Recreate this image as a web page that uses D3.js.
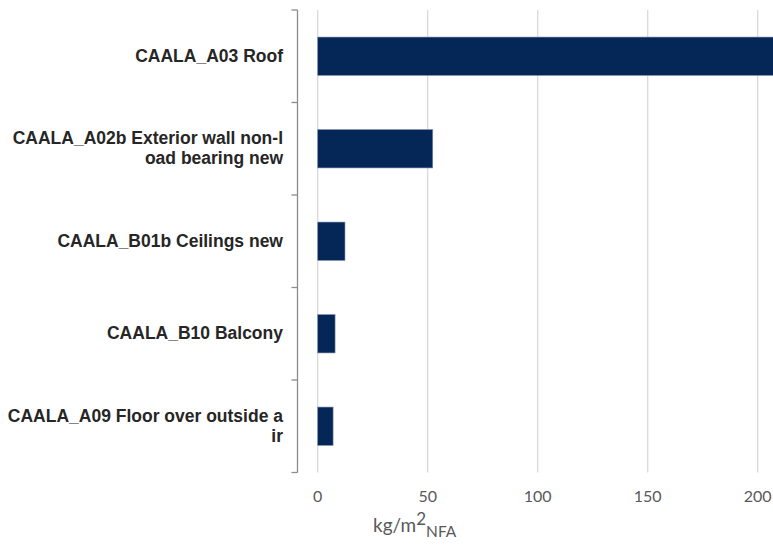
<!DOCTYPE html>
<html>
<head>
<meta charset="utf-8">
<script src="https://cdn.jsdelivr.net/npm/d3@7"></script>
<style>
  html, body { margin: 0; padding: 0; background: #fff; }
  svg { display: block; overflow: hidden; }
</style>
</head>
<body>
<svg id="chart" width="773" height="545"></svg>
<script>
// Building components and their embodied mass per net floor area
const categories = [
  ["CAALA_A03 Roof"],
  ["CAALA_A02b Exterior wall non-l", "oad bearing new"],
  ["CAALA_B01b Ceilings new"],
  ["CAALA_B10 Balcony"],
  ["CAALA_A09 Floor over outside a", "ir"]
];
const values = [220, 52.3, 12.4, 7.9, 7.0];
const xTicks = [0, 50, 100, 150, 200];

const svg = d3.select("#chart");
const axisX = 297.5;
const plotTop = 10, plotBottom = 472.5;

const x = d3.scaleLinear().domain([0, 200]).range([317.7, 757.7]);
const y = d3.scaleBand()
  .domain(d3.range(categories.length))
  .range([plotTop, plotBottom])
  .paddingInner(0.585)
  .paddingOuter(0.2925);
const yBand = d3.scaleBand().domain(d3.range(categories.length)).range([plotTop, plotBottom]);

// vertical gridlines
svg.append("g").selectAll("line").data(xTicks).join("line")
  .attr("x1", d => x(d)).attr("x2", d => x(d))
  .attr("y1", plotTop).attr("y2", plotBottom)
  .attr("stroke", "#d9d9d9").attr("stroke-width", 1.3);

// bars
svg.append("g").selectAll("rect").data(values).join("rect")
  .attr("x", x(0))
  .attr("y", (d, i) => y(i))
  .attr("width", d => x(d) - x(0))
  .attr("height", y.bandwidth())
  .attr("fill", "#052757")
  .attr("stroke", "#8090a8").attr("stroke-width", 0.6);

// category axis with band boundary ticks pointing left
const yAxisG = svg.append("g");
yAxisG.append("line")
  .attr("x1", axisX).attr("x2", axisX).attr("y1", plotTop).attr("y2", plotBottom)
  .attr("stroke", "#8c8c8c").attr("stroke-width", 1.3);
const bounds = d3.range(categories.length + 1).map(i => i < categories.length ? yBand(i) : plotBottom);
yAxisG.selectAll("line.tick").data(bounds).join("line")
  .attr("class", "tick")
  .attr("x1", axisX - 6).attr("x2", axisX)
  .attr("y1", d => d).attr("y2", d => d)
  .attr("stroke", "#8c8c8c").attr("stroke-width", 1.3);

// category labels
const labelG = svg.append("g")
  .attr("font-family", "'Liberation Sans', Arial, sans-serif")
  .attr("font-weight", "bold")
  .attr("font-size", 17.5)
  .attr("fill", "#262626")
  .attr("text-anchor", "end");
categories.forEach((lines, i) => {
  const cy = yBand(i) + yBand.bandwidth() / 2;
  const lh = 20;
  const t = labelG.append("text").attr("x", 283);
  lines.forEach((ln, j) => {
    t.append("tspan")
      .attr("x", 283)
      .attr("y", cy + (j - (lines.length - 1) / 2) * lh + 5.5)
      .text(ln);
  });
});

// value axis tick labels
svg.append("g")
  .attr("font-family", "Lato, 'Open Sans', sans-serif")
  .attr("font-size", 16)
  .attr("fill", "#595959")
  .attr("text-anchor", "middle")
  .selectAll("text").data(xTicks).join("text")
  .attr("x", d => x(d))
  .attr("y", 502)
  .text(d => d3.format("d")(d));

// value axis title with superscript and subscript
const title = svg.append("text")
  .attr("x", 373).attr("y", 532)
  .attr("font-family", "Lato, 'Open Sans', sans-serif")
  .attr("font-size", 19)
  .attr("fill", "#595959");
title.append("tspan").text("kg/m");
title.append("tspan").attr("dy", -7).attr("font-size", 17).text("2");
title.append("tspan").attr("dy", 12).attr("font-size", 15.5).text("NFA");
</script>
</body>
</html>
